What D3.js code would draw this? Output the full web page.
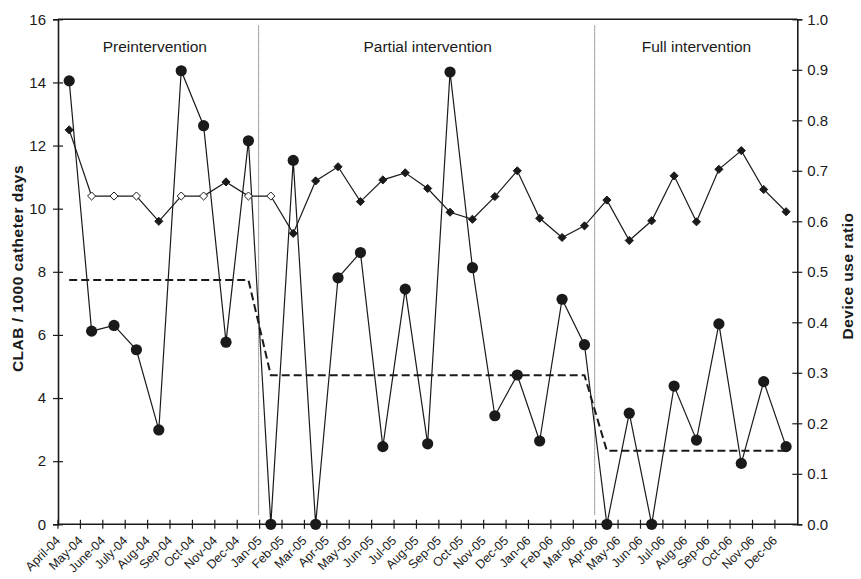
<!DOCTYPE html>
<html>
<head>
<meta charset="utf-8">
<script src="https://cdn.jsdelivr.net/npm/d3@7"></script>
<style>
  html, body { margin: 0; padding: 0; background: #fff; }
  svg { display: block; font-family: "Liberation Sans", Arial, sans-serif; }
</style>
</head>
<body>
<svg id="chart" width="861" height="579"></svg>
<script>
// ---- data ----
const months = ["April-04","May-04","June-04","July-04","Aug-04","Sep-04","Oct-04","Nov-04","Dec-04",
  "Jan-05","Feb-05","Mar-05","Apr-05","May-05","Jun-05","Jul-05","Aug-05","Sep-05","Oct-05","Nov-05","Dec-05",
  "Jan-06","Feb-06","Mar-06","Apr-06","May-06","Jun-06","Jul-06","Aug-06","Sep-06","Oct-06","Nov-06","Dec-06"];

const clabRate = [14.05,6.12,6.30,5.53,2.99,14.37,12.63,5.77,12.15,
  0,11.53,0,7.81,8.61,2.46,7.45,2.55,14.33,8.13,3.44,4.73,2.64,7.13,5.69,
  0,3.52,0,4.38,2.67,6.35,1.93,4.52,2.46];

const deviceRatio = [0.781,0.65,0.65,0.65,0.600,0.65,0.65,0.678,0.65,
  0.65,0.576,0.680,0.708,0.639,0.682,0.696,0.665,0.618,0.604,0.649,0.700,0.606,0.568,0.591,
  0.642,0.562,0.601,0.690,0.599,0.703,0.740,0.663,0.619];

// months whose device use ratio was estimated (open diamonds)
const ratioEstimated = ["May-04","June-04","July-04","Sep-04","Oct-04","Dec-04","Jan-05"];

const phaseMean = [7.74,7.74,7.74,7.74,7.74,7.74,7.74,7.74,7.74,
  4.72,4.72,4.72,4.72,4.72,4.72,4.72,4.72,4.72,4.72,4.72,4.72,4.72,4.72,4.72,
  2.33,2.33,2.33,2.33,2.33,2.33,2.33,2.33,2.33];

const phaseNames = ["Preintervention","Partial intervention","Full intervention"];
const phaseStart = ["April-04","Jan-05","Apr-06"];
const phaseEnd = ["Dec-04","Mar-06","Dec-06"];

const leftTicks = [0,2,4,6,8,10,12,14,16];
const rightTicks = [0,0.1,0.2,0.3,0.4,0.5,0.6,0.7,0.8,0.9,1.0];

// ---- layout ----
const svg = d3.select("#chart");
const L = 58, R = 797.3, T = 19.3, B = 524.3;
const ink = "#1a1a1a";

const x = d3.scaleBand().domain(months).range([L, R]).padding(0);
const cx = m => x(m) + x.bandwidth() / 2;
const y = d3.scaleLinear().domain([0, 16]).range([B, T]);
const yR = d3.scaleLinear().domain([0, 1]).range([B, T]);

// frame top
svg.append("line").attr("x1", L).attr("x2", R).attr("y1", T).attr("y2", T)
  .attr("stroke", ink).attr("stroke-width", 1.6);

// phase separators (dotted)
phaseStart.slice(1).forEach(m => {
  svg.append("line").attr("x1", x(m) - 1).attr("x2", x(m) - 1)
    .attr("y1", y(15.8)).attr("y2", y(0.3))
    .attr("stroke", "#444").attr("stroke-width", 1).attr("stroke-dasharray", "1,1");
});

// phase labels
phaseNames.forEach((n, i) => {
  const a = x(phaseStart[i]), b = x(phaseEnd[i]) + x.bandwidth();
  svg.append("text").attr("x", (a + b) / 2 + (i === 0 ? -4 : 0))
    .attr("y", 52).attr("text-anchor", "middle")
    .attr("font-size", 15.5).attr("fill", ink).text(n);
});

// left axis
const gL = svg.append("g").attr("transform", `translate(${L},0)`)
  .call(d3.axisLeft(y).tickValues(leftTicks).tickFormat(d3.format("d")).tickSize(5).tickPadding(7));
gL.select(".domain").attr("stroke", ink).attr("stroke-width", 1.6);
gL.selectAll(".tick line").attr("x1", 5).attr("stroke", ink).attr("stroke-width", 1.2);
gL.selectAll(".tick text").attr("font-size", 15).attr("fill", ink).attr("font-family", "Liberation Sans, Arial, sans-serif");

// right axis
const gR = svg.append("g").attr("transform", `translate(${R},0)`)
  .call(d3.axisRight(yR).tickValues(rightTicks).tickFormat(d3.format(".1f")).tickSize(5).tickPadding(5));
gR.select(".domain").attr("stroke", ink).attr("stroke-width", 1.6);
gR.selectAll(".tick line").attr("x1", -5).attr("stroke", ink).attr("stroke-width", 1.2);
gR.selectAll(".tick text").attr("font-size", 15).attr("fill", ink).attr("font-family", "Liberation Sans, Arial, sans-serif");

// bottom axis
svg.append("line").attr("x1", L).attr("x2", R).attr("y1", B).attr("y2", B)
  .attr("stroke", ink).attr("stroke-width", 1.6);
const gX = svg.append("g");
gX.selectAll("line.xt").data(months).join("line").attr("class", "xt")
  .attr("x1", d => x(d)).attr("x2", d => x(d)).attr("y1", B - 4.5).attr("y2", B + 4.5)
  .attr("stroke", ink).attr("stroke-width", 1.2);
gX.selectAll("text.xl").data(months).join("text").attr("class", "xl")
  .attr("transform", d => `translate(${x(d) + 3},${B + 17}) rotate(-45)`)
  .attr("text-anchor", "end").attr("font-size", 12.5).attr("fill", ink).text(d => d);

// axis titles
svg.append("text").attr("transform", `translate(23,268.5) rotate(-90)`)
  .attr("text-anchor", "middle").attr("font-size", 15.5).attr("font-weight", "bold")
  .attr("letter-spacing", 0.5).attr("fill", ink).text("CLAB / 1000 catheter days");
svg.append("text").attr("transform", `translate(853,276) rotate(-90)`)
  .attr("text-anchor", "middle").attr("font-size", 15.5).attr("font-weight", "bold")
  .attr("letter-spacing", 0.5).attr("fill", ink).text("Device use ratio");

// phase mean dashed line
svg.append("path").datum(phaseMean)
  .attr("d", d3.line().x((d, i) => cx(months[i])).y(d => y(d)))
  .attr("fill", "none").attr("stroke", ink).attr("stroke-width", 2).attr("stroke-dasharray", "8,4");

// device use ratio line
svg.append("path").datum(deviceRatio)
  .attr("d", d3.line().x((d, i) => cx(months[i])).y(d => yR(d)))
  .attr("fill", "none").attr("stroke", ink).attr("stroke-width", 1.2);

// CLAB line
svg.append("path").datum(clabRate)
  .attr("d", d3.line().x((d, i) => cx(months[i])).y(d => y(d)))
  .attr("fill", "none").attr("stroke", ink).attr("stroke-width", 1.2);

// diamonds
const diamond = d3.symbol().type(d3.symbolDiamond2).size(42);
svg.selectAll("path.dia").data(deviceRatio).join("path").attr("class", "dia")
  .attr("transform", (d, i) => `translate(${cx(months[i])},${yR(d)})`)
  .attr("d", diamond)
  .attr("fill", (d, i) => ratioEstimated.includes(months[i]) ? "#fff" : ink)
  .attr("stroke", ink).attr("stroke-width", 1);

// circles
svg.selectAll("circle.clab").data(clabRate).join("circle").attr("class", "clab")
  .attr("cx", (d, i) => cx(months[i])).attr("cy", d => y(d)).attr("r", 5.6)
  .attr("fill", ink);
</script>
</body>
</html>
